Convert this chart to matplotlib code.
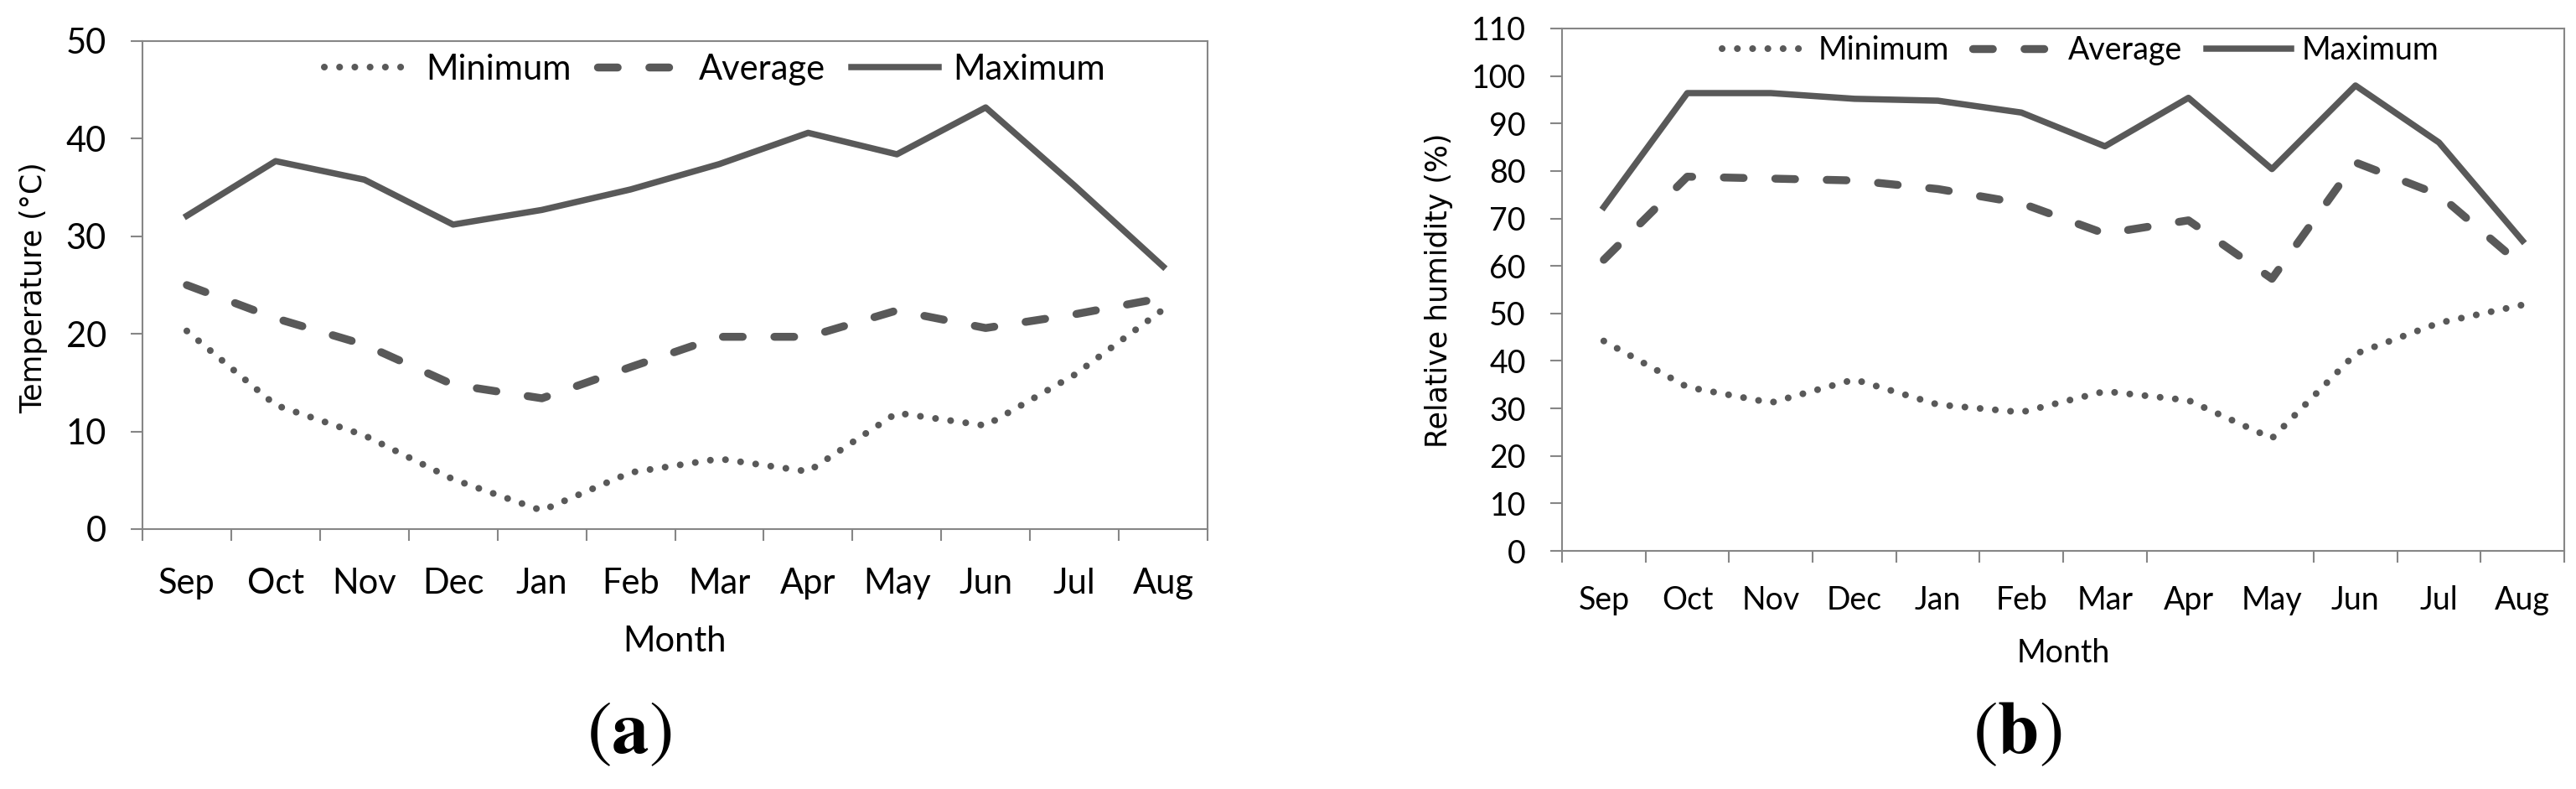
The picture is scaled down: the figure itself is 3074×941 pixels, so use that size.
import matplotlib
matplotlib.use("Agg")
from matplotlib import pyplot as plt
import numpy as np

plt.rcParams['font.family'] = ['Lato', 'DejaVu Sans']
plt.rcParams['mathtext.fontset'] = 'stix'

# Data
months = ['Sep', 'Oct', 'Nov', 'Dec', 'Jan', 'Feb', 'Mar', 'Apr', 'May', 'Jun', 'Jul', 'Aug']

temp_min = [20.3, 12.7, 9.6, 5.1, 1.9, 5.8, 7.2, 5.9, 11.9, 10.6, 15.8, 22.5]
temp_avg = [25.0, 21.6, 18.9, 14.8, 13.4, 16.6, 19.7, 19.7, 22.4, 20.6, 22.0, 23.7]
temp_max = [32.1, 37.7, 35.8, 31.2, 32.7, 34.8, 37.4, 40.6, 38.4, 43.2, 35.2, 26.9]

rh_min = [44.2, 34.5, 31.2, 36.1, 30.8, 29.2, 33.6, 31.7, 23.7, 41.5, 48.0, 51.8]
rh_avg = [61.3, 78.8, 78.4, 78.0, 76.2, 73.2, 66.8, 69.6, 57.3, 81.8, 75.0, 60.0]
rh_max = [72.4, 96.4, 96.4, 95.2, 94.8, 92.3, 85.2, 95.4, 80.4, 98.0, 86.0, 65.3]

series_names = ['Minimum', 'Average', 'Maximum']

W, H = 3074, 941
LINE = '#595959'
SPINE = '#868686'

fig = plt.figure(figsize=(W / 100, H / 100), dpi=100)


def box(l, t, r, b):
    # pixel box -> figure fraction rect
    return [l / W, 1 - b / H, (r - l) / W, (b - t) / H]


def draw_panel(ax, lo, mid, hi, ymax, ystep, fs, xpad, skip_edge=None):
    x = np.arange(len(months))
    ax.plot(x, lo, color=LINE, lw=5.8, linestyle=(0, (0.01, 2.25)),
            dash_capstyle='round', label=series_names[0])
    ax.plot(x, mid, color=LINE, lw=6.8, linestyle=(0, (2.5, 4.0)),
            dash_capstyle='round', label=series_names[1])
    ax.plot(x, hi, color=LINE, lw=5.4, label=series_names[2])

    ax.set_xlim(-0.5, len(months) - 0.5)
    ax.set_ylim(0, ymax)

    edges = np.arange(-0.5, len(months), 1.0)
    if skip_edge is not None:
        # one boundary tick is missing in the original picture
        edges = [e for e in edges if e != skip_edge]
    ax.set_xticks(edges)
    ax.set_xticklabels([])
    ax.set_xticks(x, minor=True)
    ax.set_xticklabels(months, minor=True, fontsize=fs)
    ax.tick_params(axis='x', which='major', length=10, width=1.5,
                   color=SPINE, direction='out')
    ax.tick_params(axis='x', which='minor', length=0, pad=xpad)

    ax.set_yticks(np.arange(0, ymax + 1, ystep))
    ax.tick_params(axis='y', length=10, width=1.5, color=SPINE,
                   direction='out', pad=21, labelsize=fs)

    for s in ax.spines.values():
        s.set_color(SPINE)
        s.set_linewidth(1.5)


# (a) temperature
ax1 = fig.add_axes(box(170, 49, 1441, 631))
draw_panel(ax1, temp_min, temp_avg, temp_max, 50, 10, 30, 33)
ax1.legend(loc='center', bbox_to_anchor=(853 / W, 1 - 83 / H),
           bbox_transform=fig.transFigure, ncol=3, frameon=False,
           fontsize=30, handlelength=2.5, handletextpad=0.4,
           columnspacing=0.75, borderpad=0, borderaxespad=0)
fig.text(40 / W, 1 - 343 / H, 'Temperature (°C)', rotation=90, ha='center',
         va='center', fontsize=25, family='DejaVu Sans')
fig.text(805 / W, 1 - 777 / H, 'Month', ha='center', va='baseline', fontsize=30)
fig.text(751 / W, 1 - 898 / H, r'$(\mathbf{a})$', ha='center', va='baseline',
         fontsize=64)

# (b) relative humidity
ax2 = fig.add_axes(box(1864, 34, 3060, 657))
draw_panel(ax2, rh_min, rh_avg, rh_max, 110, 10, 27, 29.5, skip_edge=7.5)
ax2.legend(loc='center', bbox_to_anchor=(2483 / W, 1 - 60 / H),
           bbox_transform=fig.transFigure, ncol=3, frameon=False,
           fontsize=27, handlelength=2.7, handletextpad=0.35,
           columnspacing=0.75, borderpad=0, borderaxespad=0)
fig.text(1717 / W, 1 - 346 / H, 'Relative humidity (%)', rotation=90,
         ha='center', va='center', fontsize=25, family='DejaVu Sans')
fig.text(2462 / W, 1 - 790 / H, 'Month', ha='center', va='baseline', fontsize=27)
fig.text(2407 / W, 1 - 898 / H, r'$(\mathbf{b})$', ha='center', va='baseline',
         fontsize=64)

plt.savefig('out.png', dpi=100)
